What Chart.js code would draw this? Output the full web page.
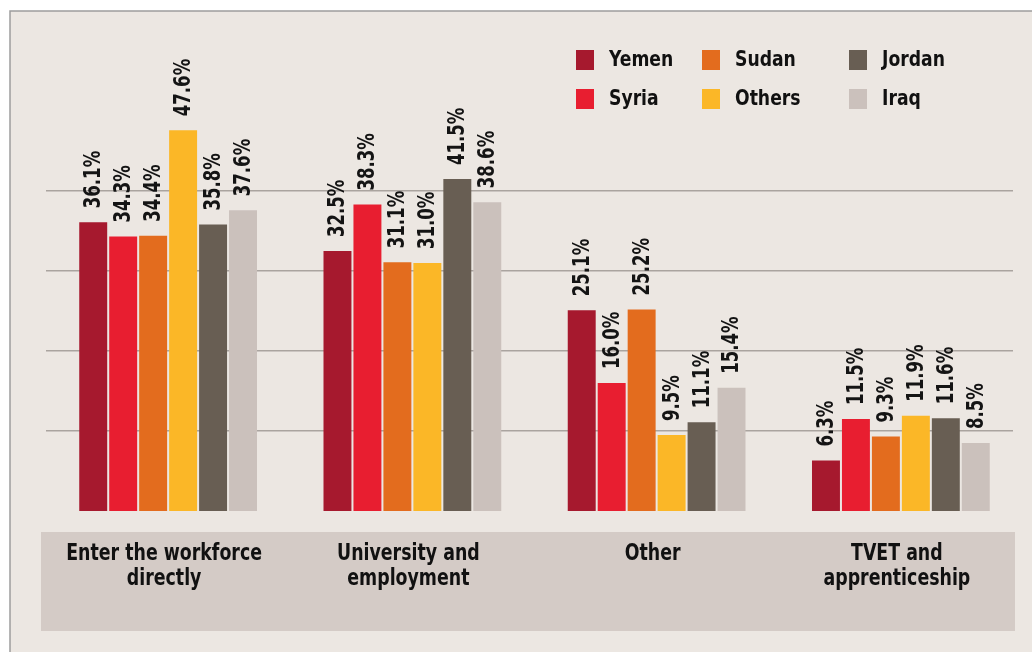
<!DOCTYPE html>
<html>
<head>
<meta charset="utf-8">
<script src="https://cdn.jsdelivr.net/npm/chart.js@4/dist/chart.umd.min.js"></script>
<style>
    html, body { margin: 0; padding: 0; background: #ffffff; }
    #wrap { position: relative; width: 1032px; height: 652px; }
</style>
</head>
<body>
<div id="wrap"><canvas id="chart"></canvas></div>
<script>
// Data
const categories = [
    ['Enter the workforce', 'directly'],
    ['University and', 'employment'],
    ['Other'],
    ['TVET and', 'apprenticeship']
];
const countries = ['Yemen', 'Syria', 'Sudan', 'Others', 'Jordan', 'Iraq'];
const yemen  = [36.1, 32.5, 25.1, 6.3];
const syria  = [34.3, 38.3, 16.0, 11.5];
const sudan  = [34.4, 31.1, 25.2, 9.3];
const others = [47.6, 31.0, 9.5, 11.9];
const jordan = [35.8, 41.5, 11.1, 11.6];
const iraq   = [37.6, 38.6, 15.4, 8.5];
const gridValues = [10, 20, 30, 40];

const colors = ['#a6192e', '#e81e30', '#e36c1e', '#fbb727', '#685e53', '#cbc1bc'];
const series = [yemen, syria, sudan, others, jordan, iraq];
const condensed = '"DejaVu Sans Condensed", "DejaVu Sans", sans-serif';

// squeeze text along its direction, the original uses a condensed face
function narrowText(ctx, text, x, y, sx) {
    ctx.save();
    ctx.translate(x, y);
    ctx.scale(sx, 1);
    ctx.fillText(text, 0, 0);
    ctx.restore();
}

// Background, frame and the label band under the bars
const backdrop = {
    id: 'backdrop',
    beforeDraw(chart) {
        const ctx = chart.ctx;
        ctx.save();
        ctx.fillStyle = '#ffffff';
        ctx.fillRect(0, 0, chart.width, chart.height);
        ctx.fillStyle = '#ece7e2';
        ctx.fillRect(10, 11, chart.width - 10, chart.height - 11);
        ctx.strokeStyle = '#9d9d9d';
        ctx.lineWidth = 1.5;
        ctx.beginPath();
        ctx.moveTo(10, chart.height);
        ctx.lineTo(10, 11);
        ctx.lineTo(chart.width, 11);
        ctx.stroke();
        ctx.fillStyle = '#d4cbc6';
        ctx.fillRect(41, 532, 974, 99);
        ctx.restore();
    },
    // grid lines stop a little short of the right edge in the original
    beforeDatasetsDraw(chart) {
        const ctx = chart.ctx;
        const area = chart.chartArea;
        ctx.save();
        ctx.fillStyle = '#ece7e2';
        ctx.fillRect(1013, area.top, area.right - 1013 + 2, area.bottom - area.top);
        ctx.restore();
    }
};

// Rotated value labels over each bar
const valueLabels = {
    id: 'valueLabels',
    afterDatasetsDraw(chart) {
        const ctx = chart.ctx;
        ctx.save();
        ctx.fillStyle = '#141414';
        ctx.font = 'bold 23px ' + condensed;
        ctx.textAlign = 'left';
        ctx.textBaseline = 'middle';
        chart.data.datasets.forEach((ds, i) => {
            const meta = chart.getDatasetMeta(i);
            meta.data.forEach((bar, j) => {
                ctx.save();
                ctx.translate(bar.x + 1, bar.y - 14);
                ctx.rotate(-Math.PI / 2);
                narrowText(ctx, ds.data[j].toFixed(1) + '%', 0, 0, 0.8);
                ctx.restore();
            });
        });
        ctx.restore();
    }
};

// Category names and the column-wise legend
const extras = {
    id: 'extras',
    afterDraw(chart) {
        const ctx = chart.ctx;
        const x = chart.scales.x;
        ctx.save();
        ctx.fillStyle = '#111111';
        ctx.textAlign = 'center';
        ctx.textBaseline = 'middle';
        ctx.font = 'bold 23px ' + condensed;
        categories.forEach((lines, i) => {
            const cx = x.getPixelForValue(i);
            lines.forEach((line, k) => {
                narrowText(ctx, line, cx - 4, 554 + k * 25, 0.84);
            });
        });

        const colX = [576, 702, 849];
        const rowY = [60, 99];
        ctx.textAlign = 'left';
        ctx.font = 'bold 22px ' + condensed;
        chart.data.datasets.forEach((ds, i) => {
            const lx = colX[Math.floor(i / 2)];
            const ly = rowY[i % 2];
            ctx.fillStyle = ds.backgroundColor;
            ctx.fillRect(lx, ly - 10, 18, 20);
            ctx.fillStyle = '#111111';
            narrowText(ctx, ds.label, lx + 33, ly, 0.87);
        });
        ctx.restore();
    }
};

document.addEventListener('DOMContentLoaded', function() {
    const chartCtx = document.getElementById('chart').getContext('2d');
    const chart = new Chart(chartCtx, {
        type: 'bar',
        data: {
            labels: categories,
            datasets: countries.map((name, i) => ({
                label: name,
                data: series[i],
                backgroundColor: colors[i],
                borderWidth: 0,
                categoryPercentage: 0.736,
                barPercentage: 0.933
            }))
        },
        options: {
            responsive: true,
            maintainAspectRatio: false,
            devicePixelRatio: 1,
            animation: false,
            layout: {
                padding: { left: 46, right: 9, top: 31, bottom: 141 }
            },
            plugins: {
                legend: { display: false },
                tooltip: { enabled: false }
            },
            scales: {
                x: {
                    display: false
                },
                y: {
                    min: 0,
                    max: 60,
                    afterBuildTicks: function(scale) {
                        scale.ticks = gridValues.map(v => ({ value: v }));
                    },
                    ticks: { display: false },
                    border: { display: false },
                    grid: {
                        color: '#aaa49f',
                        lineWidth: 1.5,
                        drawTicks: false
                    }
                }
            }
        },
        plugins: [backdrop, valueLabels, extras]
    });
});
</script>
</body>
</html>
